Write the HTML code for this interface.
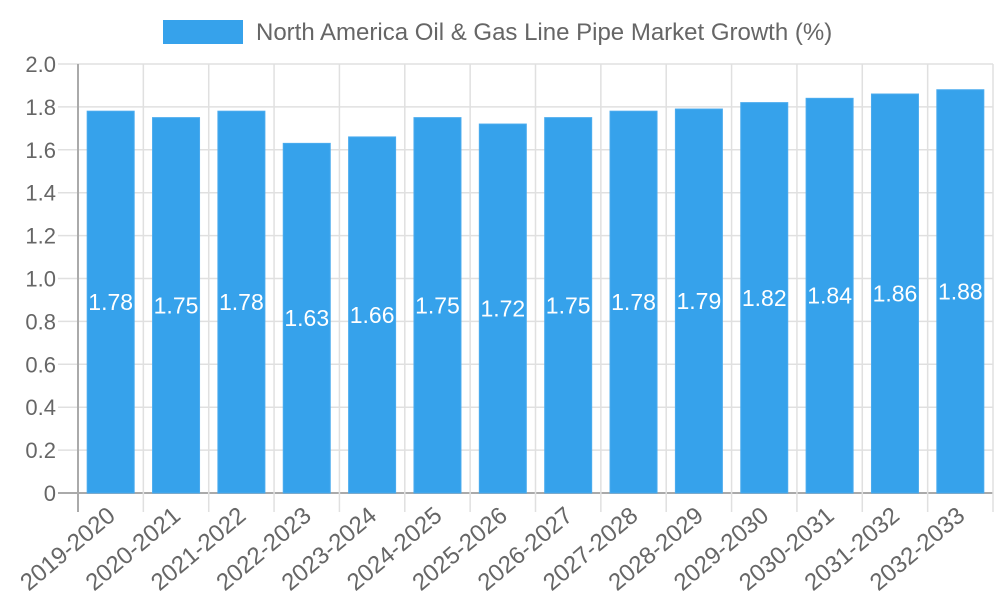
<!DOCTYPE html>
<html><head><meta charset="utf-8"><style>
body{margin:0;background:#fff;}
svg text{font-family:"Liberation Sans",sans-serif;}
</style></head><body>
<svg id="chart" width="1000" height="600" xmlns="http://www.w3.org/2000/svg">
<rect x="163" y="20" width="80" height="24" fill="#36a2eb"/>
<text x="256" y="40" font-size="24" fill="#666">North America Oil &amp; Gas Line Pipe Market Growth (%)</text>
<g id="grid"></g><g id="bars"></g><g id="labels"></g>
</svg>
<script>
const categories=["2019-2020","2020-2021","2021-2022","2022-2023","2023-2024","2024-2025","2025-2026","2026-2027","2027-2028","2028-2029","2029-2030","2030-2031","2031-2032","2032-2033"];
const values=[1.78,1.75,1.78,1.63,1.66,1.75,1.72,1.75,1.78,1.79,1.82,1.84,1.86,1.88];
const yTicks=[0,0.2,0.4,0.6,0.8,1.0,1.2,1.4,1.6,1.8,2.0];
const yTickLabels=["0","0.2","0.4","0.6","0.8","1.0","1.2","1.4","1.6","1.8","2.0"];
const NS="http://www.w3.org/2000/svg";
const L=78,R=993,T=64,B=493,yMax=2.0;
const step=(R-L)/categories.length;
const y=v=>B-(v/yMax)*(B-T);
const xc=i=>L+step*(i+0.5);
function mk(tag,attrs,parent){const e=document.createElementNS(NS,tag);for(const k in attrs)e.setAttribute(k,attrs[k]);parent.appendChild(e);return e;}
const grid=document.getElementById('grid'),bars=document.getElementById('bars'),labels=document.getElementById('labels');
yTicks.forEach((t,i)=>{
  const ln=mk('line',{x1:58,x2:R,y1:y(t),y2:y(t),stroke:t===0?'#aaa':'#e0e0e0','stroke-width':t===0?2:1.5},grid);
  
  
  const tx=mk('text',{x:56,y:y(t)+8,'text-anchor':'end','font-size':22,fill:'#666'},grid);
  tx.textContent=yTickLabels[i];
  
  
});
for(let i=0;i<=categories.length;i++){
  const x=L+step*i;
  const ln=mk('line',{x1:x,x2:x,y1:T,y2:512,stroke:i===0?'#aaa':'#e0e0e0','stroke-width':i===0?2:1.5},grid);
  
  
}
categories.forEach((c,i)=>{
  const bw=47;
  const r=mk('rect',{x:xc(i)-bw/2,y:y(values[i]),width:bw,height:B-y(values[i]),fill:'#36a2eb',stroke:'#4aabee','stroke-width':1},bars);
  
  
  const v=mk('text',{x:xc(i),y:(y(values[i])+B)/2+8,'text-anchor':'middle','font-size':23,fill:'#fff'},labels);
  v.textContent=values[i].toFixed(2);
  
  
  const t=mk('text',{x:0,y:0,'text-anchor':'end','font-size':24,fill:'#666',transform:`translate(${xc(i)+6},${518}) rotate(-40)`},labels);
  t.textContent=c;
  
  
});
</script>
</body></html>
